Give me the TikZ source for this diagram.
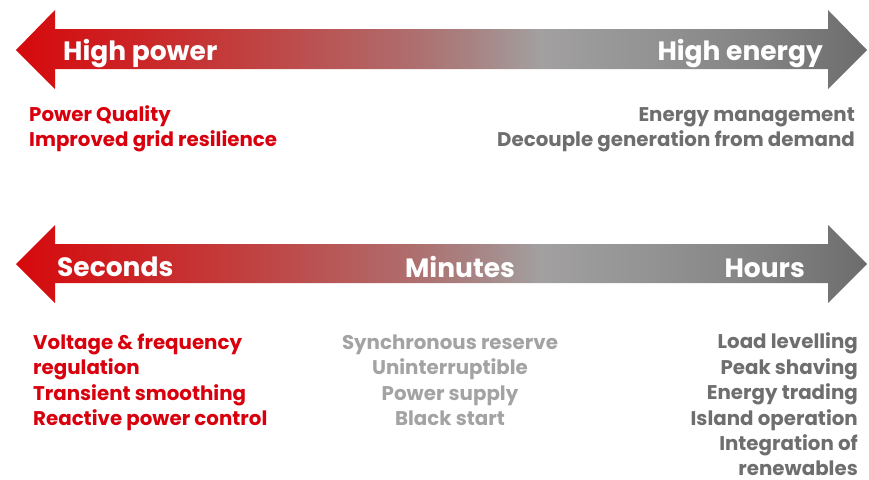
\documentclass[tikz,border=0pt]{standalone}
\usepackage{fontspec}
\setmainfont{Poppins}
\definecolor{abbred}{HTML}{D9000D}
\definecolor{darkgrey}{HTML}{6E6E6E}
\definecolor{lightgrey}{HTML}{A3A3A3}
\pgfdeclarehorizontalshading{arrowshade}{100bp}{
  color(0bp)=(red!84!black);
  color(25bp)=({rgb,255:red,214;green,9;blue,12});
  color(29.9bp)=({rgb,255:red,207;green,28;blue,30});
  color(35.8bp)=({rgb,255:red,198;green,52;blue,52});
  color(41.7bp)=({rgb,255:red,188;green,78;blue,78});
  color(47.6bp)=({rgb,255:red,176;green,106;blue,106});
  color(51.7bp)=({rgb,255:red,168;green,130;blue,130});
  color(55.8bp)=({rgb,255:red,162;green,160;blue,160});
  color(62.3bp)=({rgb,255:red,147;green,147;blue,147});
  color(68.7bp)=({rgb,255:red,131;green,131;blue,131});
  color(75bp)=({rgb,255:red,108;green,108;blue,108});
  color(100bp)=({rgb,255:red,108;green,108;blue,108})}
\tikzset{
  arrowlabel/.style={text=white, inner sep=0pt, font=\fontsize{26.5}{30}\selectfont\bfseries},
  desc/.style={inner sep=0pt, font=\fontsize{19.8}{24}\selectfont\bfseries},
  redtext/.style={desc, text=abbred},
  greytext/.style={desc, text=darkgrey},
  lighttext/.style={desc, text=lightgrey},
  bigarrow/.style={shading=arrowshade, draw=none}
}
\begin{document}
\begin{tikzpicture}[x=1pt, y=-1pt]
\useasboundingbox (0,0) rectangle (869,479);
% top arrow
\path[bigarrow] (16,50) -- (55,10) -- (55,29) -- (828,29) -- (828,10) -- (867,50)
  -- (828,89) -- (828,69) -- (55,69) -- (55,89) -- cycle;
% bottom arrow
\path[bigarrow] (16,264) -- (55,225) -- (55,244) -- (828,244) -- (828,225) -- (867,264)
  -- (828,303) -- (828,283) -- (55,283) -- (55,303) -- cycle;

\node[arrowlabel, anchor=base west] (hp) at (63,60) {High power};
\node[arrowlabel, anchor=base east] (he) at (823,60) {High energy};
\node[arrowlabel, anchor=base west] (sec) at (57,276) {Seconds};
\node[arrowlabel, anchor=base] (min) at (460,277) {Minutes};
\node[arrowlabel, anchor=base east] (hrs) at (805,277) {Hours};

\node[redtext, anchor=base west] (pq) at (29,121) {Power Quality};
\node[redtext, anchor=base west] (igr) at (29,146) {Improved grid resilience};
\node[greytext, anchor=base east] (em) at (855,121) {Energy management};
\node[greytext, anchor=base east] (dg) at (855,146) {Decouple generation from demand};

\node[redtext, anchor=base west] (l1) at (33,349) {Voltage \& frequency};
\node[redtext, anchor=base west] (l2) at (33,374.5) {regulation};
\node[redtext, anchor=base west] (l3) at (33,400) {Transient smoothing};
\node[redtext, anchor=base west] (l4) at (33,425.5) {Reactive power control};

\node[lighttext, anchor=base] (c1) at (450,349) {Synchronous reserve};
\node[lighttext, anchor=base] (c2) at (450,374.5) {Uninterruptible};
\node[lighttext, anchor=base] (c3) at (450,400) {Power supply};
\node[lighttext, anchor=base] (c4) at (450,425.5) {Black start};

\node[greytext, anchor=base east] (r1) at (858,348.5) {Load levelling};
\node[greytext, anchor=base east] (r2) at (858,374) {Peak shaving};
\node[greytext, anchor=base east] (r3) at (858,399.5) {Energy trading};
\node[greytext, anchor=base east] (r4) at (858,425) {Island operation};
\node[greytext, anchor=base east] (r5) at (858,450.5) {Integration of};
\node[greytext, anchor=base east] (r6) at (858,475.5) {renewables};
\end{tikzpicture}
\end{document}
